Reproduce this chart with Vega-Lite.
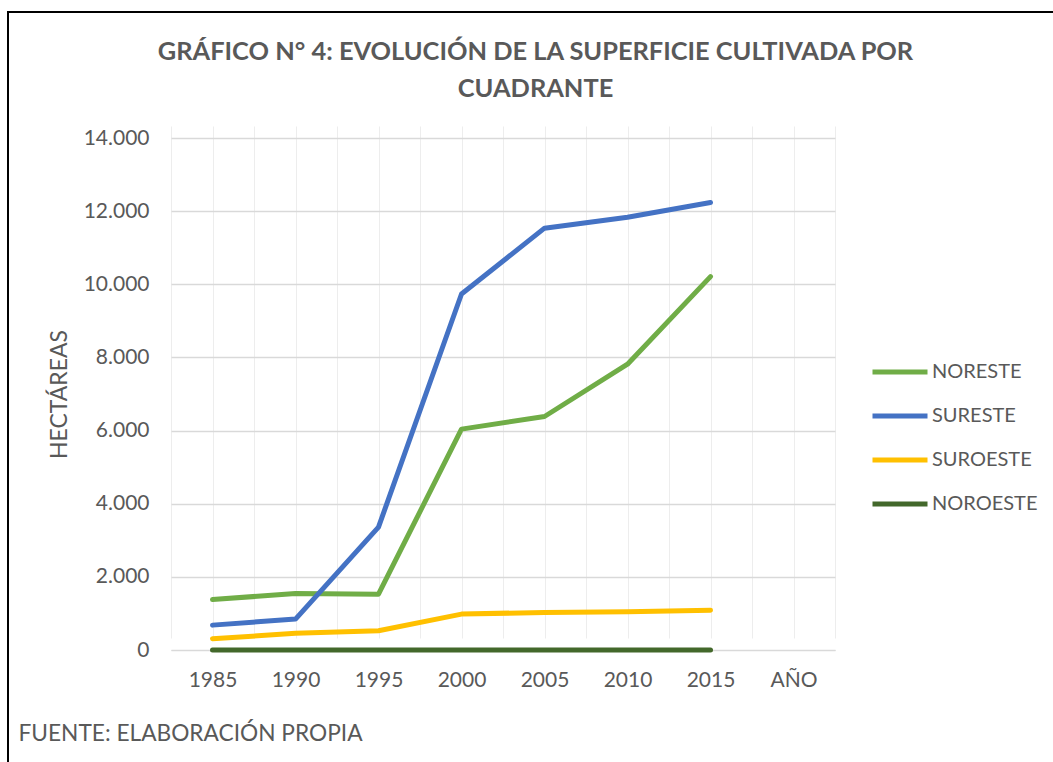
{
  "$schema": "https://vega.github.io/schema/vega-lite/v6.json",
  "width": 1047,
  "height": 752,
  "autosize": "none",
  "padding": {"left": 8, "top": 12, "right": -2, "bottom": -2},
  "background": "white",
  "title": {
    "text": ["GRÁFICO N° 4: EVOLUCIÓN DE LA SUPERFICIE CULTIVADA POR", "CUADRANTE"],
    "font": "Lato",
    "fontSize": 25.4,
    "fontWeight": "bold",
    "color": "#595959",
    "anchor": "middle",
    "frame": "group",
    "dx": 4,
    "offset": -90,
    "lineHeight": 37
  },
  "data": {
    "values": [
      {"year": 1985, "cuadrante": "NORESTE", "ha": 1380},
      {"year": 1990, "cuadrante": "NORESTE", "ha": 1545},
      {"year": 1995, "cuadrante": "NORESTE", "ha": 1527},
      {"year": 2000, "cuadrante": "NORESTE", "ha": 6040},
      {"year": 2005, "cuadrante": "NORESTE", "ha": 6385},
      {"year": 2010, "cuadrante": "NORESTE", "ha": 7815},
      {"year": 2015, "cuadrante": "NORESTE", "ha": 10210},
      {"year": 1985, "cuadrante": "SURESTE", "ha": 680},
      {"year": 1990, "cuadrante": "SURESTE", "ha": 845},
      {"year": 1995, "cuadrante": "SURESTE", "ha": 3360},
      {"year": 2000, "cuadrante": "SURESTE", "ha": 9735},
      {"year": 2005, "cuadrante": "SURESTE", "ha": 11535},
      {"year": 2010, "cuadrante": "SURESTE", "ha": 11835},
      {"year": 2015, "cuadrante": "SURESTE", "ha": 12235},
      {"year": 1985, "cuadrante": "SUROESTE", "ha": 310},
      {"year": 1990, "cuadrante": "SUROESTE", "ha": 455},
      {"year": 1995, "cuadrante": "SUROESTE", "ha": 527},
      {"year": 2000, "cuadrante": "SUROESTE", "ha": 982},
      {"year": 2005, "cuadrante": "SUROESTE", "ha": 1027},
      {"year": 2010, "cuadrante": "SUROESTE", "ha": 1045},
      {"year": 2015, "cuadrante": "SUROESTE", "ha": 1090},
      {"year": 1985, "cuadrante": "NOROESTE", "ha": 0},
      {"year": 1990, "cuadrante": "NOROESTE", "ha": 0},
      {"year": 1995, "cuadrante": "NOROESTE", "ha": 0},
      {"year": 2000, "cuadrante": "NOROESTE", "ha": 0},
      {"year": 2005, "cuadrante": "NOROESTE", "ha": 0},
      {"year": 2010, "cuadrante": "NOROESTE", "ha": 0},
      {"year": 2015, "cuadrante": "NOROESTE", "ha": 0}
    ]
  },
  "mark": {"type": "line", "strokeWidth": 5, "strokeCap": "round", "strokeJoin": "round"},
  "encoding": {
    "x": {
      "field": "year",
      "type": "quantitative",
      "scale": {"domain": [1982.5, 2022.5], "nice": false, "zero": false, "range": [163, 827]},
      "axis": {
        "values": [1982.5, 1985, 1987.5, 1990, 1992.5, 1995, 1997.5, 2000, 2002.5, 2005, 2007.5, 2010, 2012.5, 2015, 2017.5, 2020, 2022.5],
        "labelExpr": "datum.value % 5 == 0 ? (datum.value == 2020 ? 'AÑO' : format(datum.value, 'd')) : ''",
        "labelOverlap": false,
        "labelFlush": false,
        "labelFont": "Lato",
        "labelFontSize": 21,
        "labelColor": "#595959",
        "labelPadding": 19,
        "offset": -114,
        "ticks": false,
        "domain": true,
        "domainColor": "#d9d9d9",
        "domainWidth": 1,
        "grid": true,
        "gridColor": "#ededed",
        "gridWidth": 1,
        "title": "FUENTE: ELABORACIÓN PROPIA",
        "titleAnchor": "start",
        "titleAlign": "left",
        "titleX": 10,
        "titleY": 90,
        "titleBaseline": "alphabetic",
        "titleFont": "Lato",
        "titleFontSize": 22.7,
        "titleFontWeight": "normal",
        "titleColor": "#595959"
      }
    },
    "y": {
      "field": "ha",
      "type": "quantitative",
      "scale": {"domain": [0, 14000], "nice": false, "zero": true, "range": [638, 126]},
      "axis": {
        "values": [0, 2000, 4000, 6000, 8000, 10000, 12000, 14000],
        "labelExpr": "replace(format(datum.value, ','), ',', '.')",
        "labelFont": "Lato",
        "labelFontSize": 21,
        "labelColor": "#595959",
        "labelPadding": 22,
        "offset": -163,
        "ticks": false,
        "domain": false,
        "grid": true,
        "gridColor": "#d9d9d9",
        "gridWidth": 1.3,
        "title": "HECTÁREAS",
        "titleFont": "Lato",
        "titleFontSize": 23,
        "titleFontWeight": "normal",
        "titleColor": "#595959",
        "titlePadding": 12
      }
    },
    "color": {
      "field": "cuadrante",
      "type": "nominal",
      "scale": {
        "domain": ["NORESTE", "SURESTE", "SUROESTE", "NOROESTE"],
        "range": ["#70AD47", "#4472C4", "#FFC000", "#43682B"]
      },
      "legend": {
        "orient": "none",
        "legendX": 862,
        "legendY": 330,
        "title": null,
        "symbolType": "stroke",
        "symbolSize": 3025,
        "symbolStrokeWidth": 5,
        "labelFont": "Lato",
        "labelFontSize": 20,
        "labelColor": "#595959",
        "labelOffset": 2,
        "rowPadding": 4,
        "padding": 0
      }
    },
    "order": {"field": "year", "type": "quantitative"}
  },
  "config": {"view": {"stroke": "black", "strokeWidth": 2}}
}
